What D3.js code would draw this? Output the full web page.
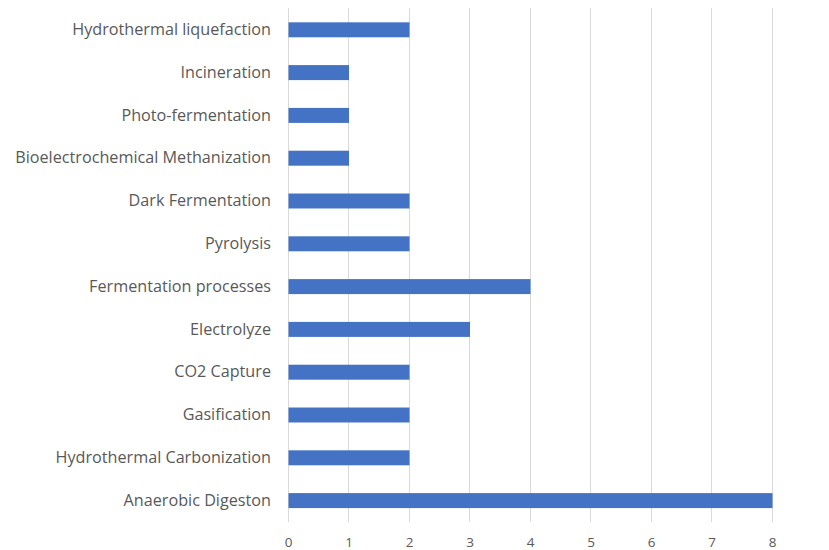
<!DOCTYPE html>
<html><head><meta charset="utf-8">
<script src="https://cdn.jsdelivr.net/npm/d3@7"></script>
<style>body{margin:0;background:#fff}svg{display:block}</style>
</head><body>
<svg id="c" width="829" height="550"></svg>
<script>
const categories = ["Hydrothermal liquefaction","Incineration","Photo-fermentation","Bioelectrochemical Methanization","Dark Fermentation","Pyrolysis","Fermentation processes","Electrolyze","CO2 Capture","Gasification","Hydrothermal Carbonization","Anaerobic Digeston"];
const values = [2,1,1,1,2,2,4,3,2,2,2,8];
const xTicks = [0,1,2,3,4,5,6,7,8];

(function(){
const svg = d3.select("#c");
const mL = 288, mR = 772, mT = 8.4, mB = 522;
const x = d3.scaleLinear().domain([0,8]).range([mL,mR]);
const y = d3.scaleBand().domain(categories).range([mT,mB]).paddingInner(0.65).paddingOuter(0.325);
const font = "'Open Sans', sans-serif";

svg.append("g").selectAll("line").data(xTicks).join("line")
  .attr("x1",d=>x(d)).attr("x2",d=>x(d)).attr("y1",mT).attr("y2",mB)
  .attr("stroke","#d9d9d9").attr("stroke-width",1).attr("shape-rendering","crispEdges");

svg.append("g").selectAll("rect").data(values).join("rect")
  .attr("x",x(0)+0.5).attr("y",(d,i)=>y(categories[i]))
  .attr("width",d=>x(d)-x(0)).attr("height",y.bandwidth())
  .attr("fill","#4472C4");

const yAxis = d3.axisLeft(y).tickSize(0).tickPadding(17);
const gy = svg.append("g").attr("transform",`translate(${mL},0)`).call(yAxis);
gy.select(".domain").remove();
gy.selectAll("text").attr("font-family",font).attr("font-size",16.2).attr("fill","#595959");

const xAxis = d3.axisBottom(x).tickValues(xTicks).tickSize(0).tickPadding(15);
const gx = svg.append("g").attr("transform",`translate(0,${mB})`).call(xAxis);
gx.select(".domain").remove();
gx.selectAll("text").attr("font-family",font).attr("font-size",13.5).attr("fill","#595959");
})();
</script>
</body></html>
